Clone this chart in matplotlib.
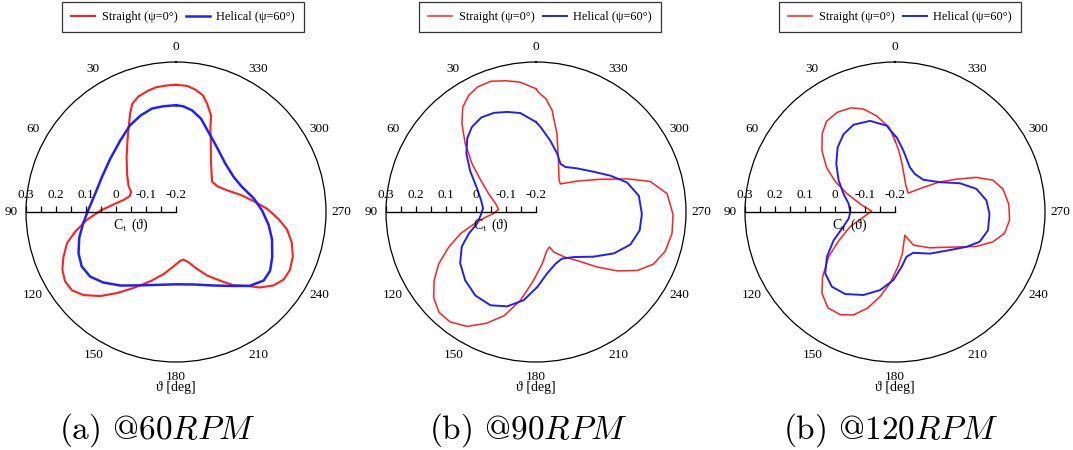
import numpy as np
import matplotlib
matplotlib.use("Agg")
import matplotlib.pyplot as plt
from matplotlib.markers import TICKUP

plt.rcParams['font.family'] = ['Liberation Serif', 'DejaVu Serif']
plt.rcParams['mathtext.fontset'] = 'cm'

# ---- data: theta [deg], Ct ----
p1_red_theta = [0, 4, 9, 13, 18, 22, 25, 29, 34, 42, 52, 61, 66, 71, 77, 83, 89, 95, 101, 106, 112, 117,
                122, 127, 132, 138, 144, 151, 160, 169, 178, 185, 189, 194, 200, 206, 213, 218, 224, 228,
                233, 238, 243, 249, 255, 261, 266, 272, 278, 285, 293, 302, 310, 317, 326, 333, 338, 340,
                344, 347, 351, 355]
p1_red_ct = [0.224, 0.223, 0.221, 0.215, 0.205, 0.189, 0.162, 0.125, 0.089, 0.046, 0.007, -0.019, -0.036,
             -0.037, -0.021, 0.009, 0.052, 0.098, 0.142, 0.178, 0.205, 0.225, 0.236, 0.234, 0.214, 0.177,
             0.134, 0.089, 0.045, 0.010, -0.020, -0.037, -0.039, -0.027, 0.001, 0.035, 0.074, 0.109,
             0.143, 0.176, 0.207, 0.224, 0.226, 0.217, 0.200, 0.175, 0.143, 0.104, 0.061, 0.022, -0.015,
             -0.038, -0.043, -0.026, 0.008, 0.056, 0.106, 0.142, 0.176, 0.199, 0.213, 0.222]
p1_blue_theta = [0, 7, 13, 20, 28, 38, 51, 65, 77, 88, 97, 105, 113, 120, 127, 134, 143, 154, 168, 180,
                 194, 207, 218, 225, 232, 238, 245, 254, 262, 271, 280, 291, 301, 314, 328, 338, 345, 351, 356]
p1_blue_ct = [0.156, 0.155, 0.154, 0.143, 0.127, 0.102, 0.082, 0.073, 0.076, 0.091, 0.112, 0.134, 0.153,
              0.163, 0.158, 0.138, 0.107, 0.072, 0.048, 0.041, 0.049, 0.075, 0.113, 0.148, 0.171, 0.170,
              0.154, 0.133, 0.112, 0.087, 0.063, 0.035, 0.025, 0.030, 0.056, 0.088, 0.122, 0.143, 0.153]

p2_red_theta = [0, 7, 13, 19, 25, 30, 35, 40, 46, 53, 60, 69, 78, 86, 92, 96, 101, 106, 112, 118, 124, 130,
                136, 142, 149, 156, 163, 170, 178, 187, 196, 201, 204, 212, 222, 228, 234, 240, 246, 253,
                261, 269, 278, 285, 290, 297, 307, 319, 324, 338, 345, 351, 355, 359]
p2_red_ct = [0.211, 0.236, 0.249, 0.261, 0.260, 0.249, 0.226, 0.184, 0.128, 0.067, 0.013, -0.031, -0.062,
             -0.075, -0.059, -0.030, 0.011, 0.062, 0.114, 0.167, 0.210, 0.245, 0.265, 0.265, 0.245, 0.206,
             0.161, 0.099, 0.028, -0.027, -0.067, -0.075, -0.054, -0.024, 0.023, 0.074, 0.134, 0.190,
             0.228, 0.250, 0.259, 0.257, 0.241, 0.194, 0.123, 0.040, -0.029, -0.076, -0.069, -0.002,
             0.070, 0.143, 0.179, 0.200]
p2_blue_theta = [0, 9, 16, 23, 30, 37, 43, 50, 58, 67, 78, 86, 93, 101, 108, 115, 124, 134, 144, 154, 163,
                 172, 181, 190, 201, 209, 220, 232, 242, 251, 260, 269, 279, 288, 296, 305, 317, 327, 333,
                 340, 349, 357]
p2_blue_ct = [0.100, 0.134, 0.147, 0.159, 0.164, 0.155, 0.136, 0.103, 0.059, 0.016, -0.013, -0.023, -0.016,
              0.000, 0.036, 0.073, 0.105, 0.128, 0.144, 0.146, 0.129, 0.097, 0.050, 0.009, -0.016, -0.022,
              -0.004, 0.042, 0.094, 0.133, 0.151, 0.153, 0.147, 0.119, 0.076, 0.034, -0.001, -0.021,
              -0.020, 0.007, 0.044, 0.084]

p3_red_theta = [0, 4, 11, 17, 23, 30, 37, 43, 50, 57, 63, 69, 77, 88, 99, 108, 117, 124, 132, 138, 145, 152,
                158, 164, 170, 176, 183, 190, 198, 203, 209, 224, 239, 247, 253, 259, 266, 274, 282, 288,
                293, 298, 304, 311, 325, 338, 347, 353, 357]
p3_red_ct = [0.038, 0.083, 0.127, 0.159, 0.177, 0.184, 0.179, 0.156, 0.118, 0.072, 0.023, -0.028, -0.081,
             -0.122, -0.094, -0.043, 0.010, 0.067, 0.125, 0.164, 0.190, 0.188, 0.170, 0.134, 0.086, 0.038,
             -0.017, -0.059, -0.101, -0.116, -0.074, -0.034, 0.027, 0.094, 0.141, 0.172, 0.183, 0.180,
             0.168, 0.143, 0.095, 0.033, -0.021, -0.075, -0.123, -0.104, -0.069, -0.027, 0.010]
p3_blue_theta = [0.0, 5.5, 15.3, 25.4, 33.4, 41.6, 50.7, 60.8, 70.5, 79.9, 90.0, 98.1, 107.4, 114.7, 123.4,
                 131.4, 139.8, 148.7, 159.2, 169.2, 178.6, 186.9, 194.5, 204.1, 220.0, 235.1, 244.0, 250.6,
                 258.9, 269.0, 277.3, 285.9, 294.0, 303.7, 318.8, 332.4, 341.6, 352.3, 358.7]
p3_blue_ct = [0.054, 0.089, 0.115, 0.122, 0.111, 0.088, 0.053, 0.015, -0.018, -0.043, -0.051, -0.044,
              -0.015, 0.025, 0.072, 0.110, 0.126, 0.120, 0.096, 0.065, 0.027, -0.016, -0.046, -0.051,
              -0.019, 0.022, 0.065, 0.099, 0.116, 0.115, 0.107, 0.082, 0.036, -0.021, -0.057, -0.057,
              -0.043, 0.007, 0.049]

series_labels = ["Straight (\u03c8=0\u00b0)", "Helical (\u03c8=60\u00b0)"]
captions = ["(a) @60$RPM$", "(b) @90$RPM$", "(b) @120$RPM$"]
r_ticks = [0.3, 0.2, 0.1, 0, -0.1, -0.2]
r_tick_labels = ["0.3", "0.2", "0.1", "0", "-0.1", "-0.2"]
theta_ticks = list(range(0, 360, 30))

panels = [
    (p1_red_theta, p1_red_ct, p1_blue_theta, p1_blue_ct),
    (p2_red_theta, p2_red_ct, p2_blue_theta, p2_blue_ct),
    (p3_red_theta, p3_red_ct, p3_blue_theta, p3_blue_ct),
]

W, H = 1073, 450
fig = plt.figure(figsize=(W / 100, H / 100), dpi=100)

centers_x = [176, 536, 895]
legend_x = [183, 540, 900]
caption_x = [157, 528, 890]
R = 150
cy = 212

RED = '#ff2020'
BLUE = '#2020ff'


def closed(th, ct):
    th = list(th) + [th[0] + 360]
    ct = list(ct) + [ct[0]]
    return np.deg2rad(th), np.array(ct)


for i, (rt, rc, bt, bc) in enumerate(panels):
    cx = centers_x[i]
    ax = fig.add_axes([(cx - R) / W, (H - cy - R) / H, 2 * R / W, 2 * R / H], projection='polar')
    ax.set_theta_zero_location('N')
    ax.set_theta_direction(1)
    ax.set_rlim(-0.2, 0.3)
    ax.grid(False)
    ax.set_yticks([])
    ax.set_xticks(np.deg2rad(theta_ticks))
    ax.set_xticklabels([str(t) for t in theta_ticks], fontsize=9.5)
    ax.set_xticks(np.deg2rad(np.arange(15, 360, 30)), minor=True)
    ax.tick_params(axis='x', which='major', direction='in', length=7, width=0.9, pad=4)
    ax.tick_params(axis='x', which='minor', direction='in', length=4, width=0.9)
    ax.spines['polar'].set_linewidth(0.9)

    lw = 1.5 if i == 0 else 1.1
    t, c = closed(rt, rc)
    ax.plot(t, c, color=RED, lw=lw, label=series_labels[0])
    t, c = closed(bt, bc)
    ax.plot(t, c, color=BLUE, lw=lw + 0.3, label=series_labels[1])

    # radial axis drawn along 90 deg
    ax.plot([np.pi / 2, np.pi / 2], [-0.2, 0.3], color='black', lw=1.0, clip_on=False)
    minor_r = np.arange(-0.2, 0.3001, 0.05)
    ax.plot(np.full_like(minor_r, np.pi / 2), minor_r, linestyle='none', marker=TICKUP,
            markersize=4, markeredgewidth=0.9, color='black', clip_on=False)
    for rv, lab in zip(r_ticks, r_tick_labels):
        ax.annotate(lab, xy=(np.pi / 2, rv), xytext=(0, 8), textcoords='offset points',
                    ha='center', va='bottom', fontsize=9.5)
    ax.annotate("C$_{\\mathrm{t}}$ (\u03d1)", xy=(np.pi / 2, -0.05), xytext=(0, -3),
                textcoords='offset points', ha='center', va='top', fontsize=10)

    fig.text(cx / W, 1 - 388 / H, "\u03d1 [deg]", ha='center', va='center', fontsize=10)

    leg = ax.legend(loc='center', bbox_to_anchor=(legend_x[i] / W, 1 - 17 / H),
                    bbox_transform=fig.transFigure, ncol=2, fontsize=8.8, frameon=True,
                    fancybox=False, edgecolor='black', handlelength=2.0, columnspacing=0.7,
                    handletextpad=0.5, borderpad=0.75)
    leg.get_frame().set_linewidth(0.9)

    fig.text(caption_x[i] / W, 1 - 430 / H, captions[i], ha='center', va='center',
             fontsize=24, family='cmr10')

fig.savefig("out.png", dpi=100)
